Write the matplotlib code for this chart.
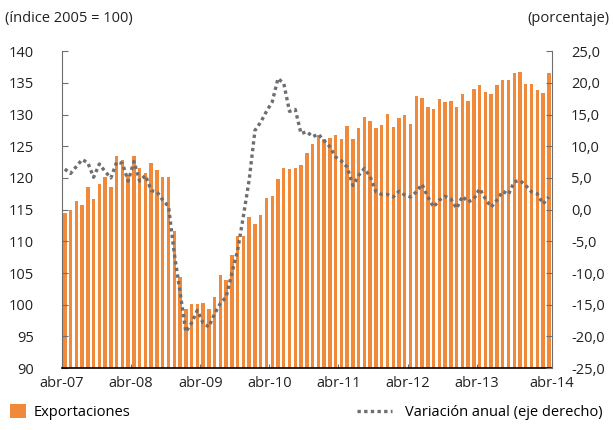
import numpy as np
import matplotlib
matplotlib.use('Agg')
import matplotlib.pyplot as plt

plt.rcParams['font.family'] = ['Open Sans', 'DejaVu Sans']

# monthly data, abr-07 .. abr-14
exportaciones = [114.4, 114.9, 116.3, 115.7, 118.5, 116.6, 119.0, 120.2, 118.5, 123.5,
                 122.9, 120.3, 123.5, 121.6, 120.7, 122.4, 121.3, 120.2, 120.2, 111.6,
                 104.4, 99.3, 100.1, 100.1, 100.2, 99.3, 101.2, 104.7, 103.9, 107.8,
                 110.8, 110.8, 113.9, 112.7, 114.1, 116.9, 117.1, 119.9, 121.6, 121.4,
                 121.6, 122.1, 124.0, 125.4, 126.8, 126.2, 126.3, 126.7, 126.2, 128.2,
                 126.1, 127.9, 129.6, 129.0, 127.9, 128.4, 130.1, 128.0, 129.5, 129.9,
                 128.5, 132.9, 132.6, 131.2, 130.9, 132.4, 132.0, 132.2, 131.2, 133.2,
                 132.1, 134.1, 134.6, 133.5, 133.2, 134.6, 135.4, 135.4, 136.5, 136.7,
                 134.8, 134.8, 133.9, 133.4, 136.5]

variacion = [6.4, 5.7, 6.8, 7.9, 7.4, 5.1, 7.2, 6.0, 5.0, 7.5,
             7.3, 4.5, 7.6, 4.5, 5.4, 3.0, 2.8, 1.5, 0.5, -6.9,
             -13.0, -19.3, -17.9, -15.9, -17.9, -18.5, -16.4, -14.8, -13.8, -10.0,
             -6.4, -1.0, 4.7, 12.5, 13.8, 15.5, 17.0, 20.7, 19.9, 15.5,
             15.8, 12.0, 12.3, 11.5, 11.9, 10.9, 9.9, 8.3, 7.7, 6.7,
             3.8, 5.4, 6.5, 5.2, 2.8, 2.4, 2.4, 2.0, 2.9, 2.3,
             2.0, 2.8, 4.0, 2.0, 0.4, 1.5, 2.1, 1.7, 0.2, 2.1,
             1.2, 1.7, 3.3, 1.7, 0.4, 1.5, 2.9, 2.4, 4.4, 4.6,
             3.8, 2.8, 2.5, 0.9, 2.0]

etiquetas = ['abr-07', 'abr-08', 'abr-09', 'abr-10', 'abr-11', 'abr-12', 'abr-13', 'abr-14']

naranja = '#F08A3A'
gris = '#6D6E71'

x = np.arange(len(exportaciones))

fig = plt.figure(figsize=(6.13, 4.3), dpi=100)
ax = fig.add_axes([0.101, 0.144, 0.799, 0.737])
ax2 = ax.twinx()

bars = ax.bar(x, np.array(exportaciones) - 90, bottom=90, width=0.6, color=naranja,
              label='Exportaciones')
line, = ax2.plot(x, variacion, color=gris, lw=2.4, linestyle=(0, (1, 1)),
                 dash_capstyle='butt', label='Variación anual (eje derecho)')

ax.set_xlim(-0.5, len(x) - 0.5)
ax.set_ylim(90, 140)
ax.set_yticks(np.arange(90, 141, 5))
ax2.set_ylim(-25, 25)
ax2.set_yticks(np.arange(-25, 26, 5))
ax2.set_yticklabels([('%.1f' % v).replace('.', ',') for v in np.arange(-25, 26, 5)])

# year ticks; last label sits at the right end of the axis
lab_pos = [-0.5 + 12 * i for i in range(7)] + [len(x) - 0.5]
ax.set_xticks(lab_pos)
ax.set_xticklabels(etiquetas)

for a in (ax, ax2):
    a.spines['top'].set_visible(False)
    a.tick_params(labelsize=10.5, colors='#222222')
ax.spines['left'].set_color(gris)
ax.spines['right'].set_visible(False)
ax2.spines['left'].set_visible(False)
ax2.spines['bottom'].set_visible(False)
ax2.spines['right'].set_color(gris)
ax.spines['bottom'].set_color('black')
ax.spines['bottom'].set_linewidth(1.2)

ax.tick_params(axis='y', direction='in', length=4, pad=20, color=gris)
ax2.tick_params(axis='y', direction='in', length=4, pad=14, color=gris)
ax.tick_params(axis='x', direction='in', length=3, pad=6, color=gris)

ax.set_zorder(1)
ax2.set_zorder(2)
ax2.patch.set_visible(False)

fig.text(0.008, 0.958, '(índice 2005 = 100)', fontsize=10.5, color='#222222', va='center')
fig.text(0.995, 0.958, '(porcentaje)', fontsize=10.5, color='#222222', va='center', ha='right')

fig.legend(handles=[bars], loc='lower left', bbox_to_anchor=(0.0, 0.0), frameon=False,
           fontsize=10.5, handlelength=1.1, handleheight=1.1, handletextpad=0.5,
           borderaxespad=0.3)
fig.legend(handles=[line], loc='lower right', bbox_to_anchor=(1.0, 0.0), frameon=False,
           fontsize=10.5, handlelength=2.4, handletextpad=0.9, borderaxespad=0.3)

fig.savefig('out.png', dpi=100)
